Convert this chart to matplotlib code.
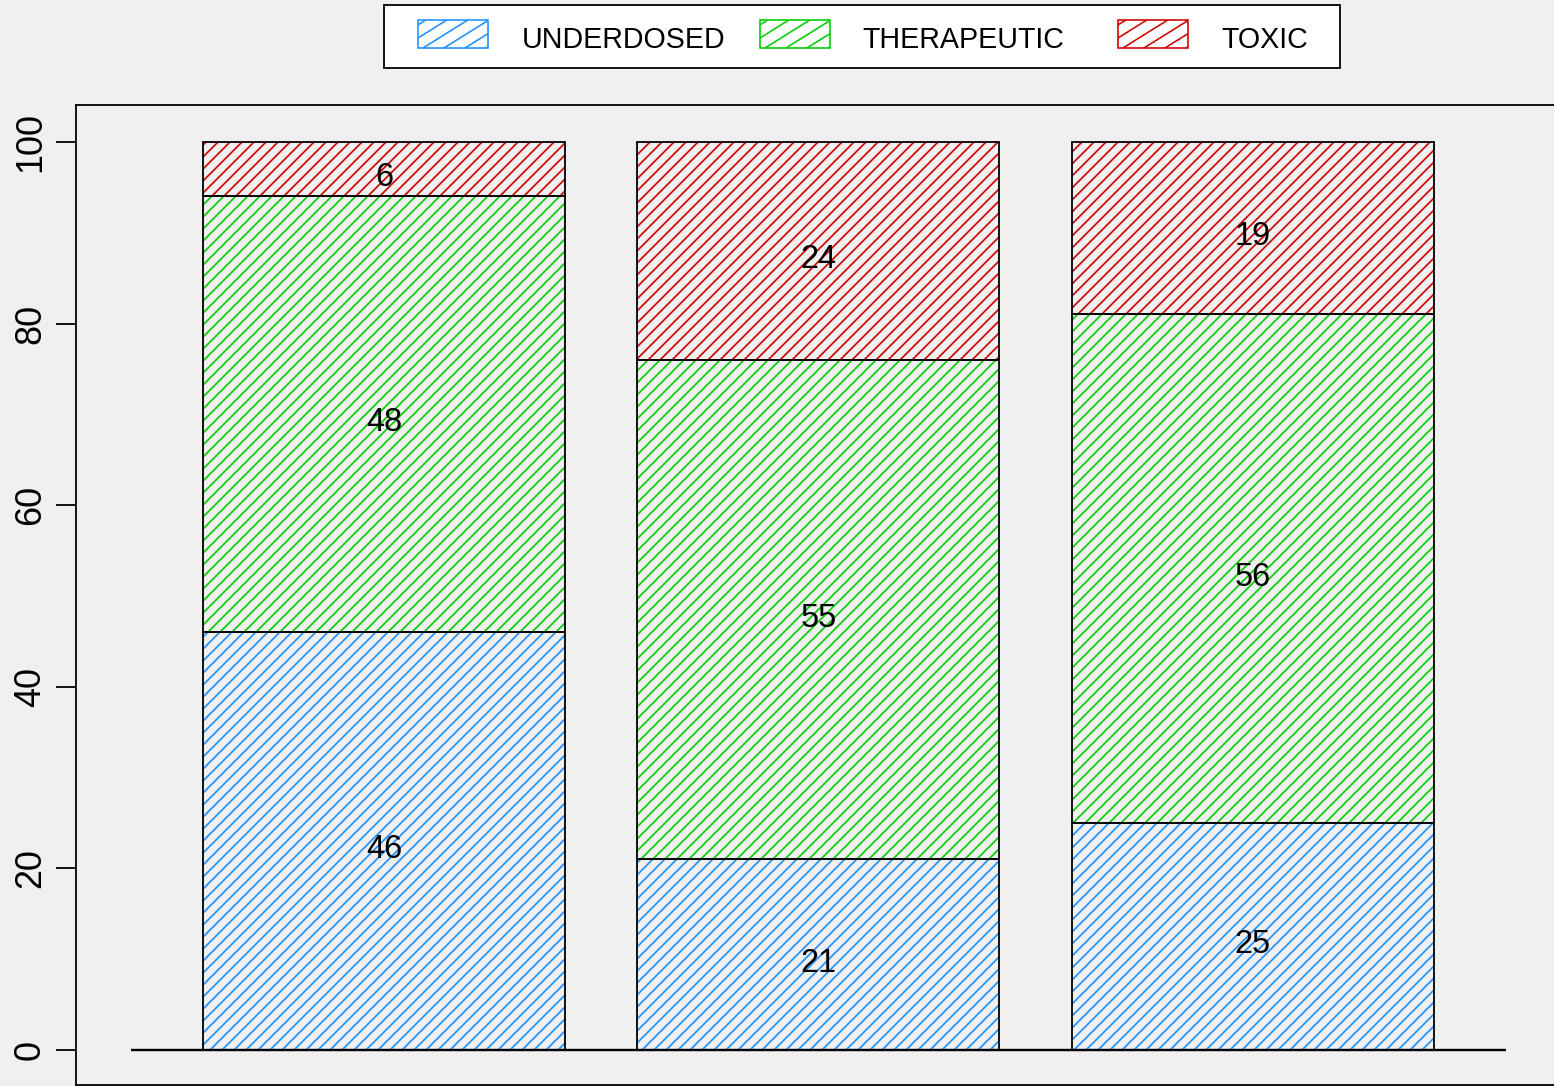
import matplotlib
matplotlib.use('Agg')
import matplotlib.pyplot as plt
from matplotlib.patches import Rectangle
from matplotlib.lines import Line2D
import numpy as np

# ---- data ----
categories = ['A', 'B', 'C']
series_names = ['UNDERDOSED', 'THERAPEUTIC', 'TOXIC']
underdosed = [46, 21, 25]
therapeutic = [48, 55, 56]
toxic = [6, 24, 19]
y_ticks = [0, 20, 40, 60, 80, 100]
colors = ['#1E90FF', '#00CD00', '#CD0000']

W, H, DPI = 1554, 1086, 72
plt.rcParams['font.family'] = ['Liberation Sans', 'DejaVu Sans']
plt.rcParams['hatch.linewidth'] = 1.7
bg = '#f0f0f0'
fig = plt.figure(figsize=(W / DPI, H / DPI), dpi=DPI, facecolor=bg)


def fx(p):
    return p / W


def fy(p):
    return 1 - p / H


ax = fig.add_axes([fx(76), fy(1085), fx(1561) - fx(76), fy(105) - fy(1085)])
ax.set_facecolor(bg)

bar_w = 1.0
space = 0.2
pos = space + bar_w / 2 + np.arange(len(categories)) * (bar_w + space)
series = [underdosed, therapeutic, toxic]
bottom = np.zeros(len(categories))
for vals, c in zip(series, colors):
    vals = np.array(vals, float)
    ax.bar(pos, vals, bar_w, bottom=bottom, facecolor='none', edgecolor=c,
           hatch='//', linewidth=0, zorder=1)
    ax.bar(pos, vals, bar_w, bottom=bottom, fill=False, edgecolor='black',
           linewidth=1.8, zorder=2)
    for x, b, v in zip(pos, bottom, vals):
        ax.annotate(f'{int(v)}', (x, b + v / 2), xytext=(0, -17.0),
                    textcoords='offset points', ha='center', va='baseline',
                    fontsize=32.5, zorder=4)
    bottom += vals

ax.hlines(0, 0, pos[-1] + bar_w / 2 + space, color='black', lw=2.4, zorder=3)

ax.set_xlim(-0.1508, 3.952)
ax.set_ylim(-3.855, 104.07)
ax.set_xticks([])
ax.set_yticks(y_ticks)
ax.set_yticklabels([str(t) for t in y_ticks])
ax.tick_params(axis='y', length=20, width=1.8, pad=8, labelsize=36,
               labelrotation=90)
plt.setp(ax.get_yticklabels(), va='center')
for s in ax.spines.values():
    s.set_linewidth(1.8)
ax.spines['right'].set_visible(False)

# ---- legend (drawn in figure pixels) ----
box = Rectangle((fx(384), fy(68)), fx(1340) - fx(384), (68 - 5) / H,
                transform=fig.transFigure, facecolor='white',
                edgecolor='black', lw=1.8, zorder=5)
fig.add_artist(box)
key_x = [418, 760, 1118]
text_x = [522, 862, 1221]
kw, ky0, ky1 = 70, 20, 48
ang = np.tan(np.radians(32))
for kx, tx, c, name in zip(key_x, text_x, colors, series_names):
    rect = Rectangle((fx(kx), fy(ky1)), kw / W, (ky1 - ky0) / H,
                     transform=fig.transFigure, facecolor='none',
                     edgecolor=c, lw=1.6, zorder=7)
    fig.add_artist(rect)
    hgt = ky1 - ky0
    for xi in np.arange(kx + 5 - 5 * 21, kx + kw + 1, 21):
        x0p, x1p = xi, xi + hgt / ang
        ln = Line2D([fx(x0p), fx(x1p)], [fy(ky1), fy(ky0)],
                    transform=fig.transFigure, color=c, lw=1.6, zorder=6)
        ln.set_clip_path(rect)
        fig.add_artist(ln)
    fig.text(fx(tx), fy(47.7), name, fontsize=28.6, ha='left', va='baseline',
             zorder=8)

fig.savefig('out.png', dpi=DPI, facecolor=bg)
